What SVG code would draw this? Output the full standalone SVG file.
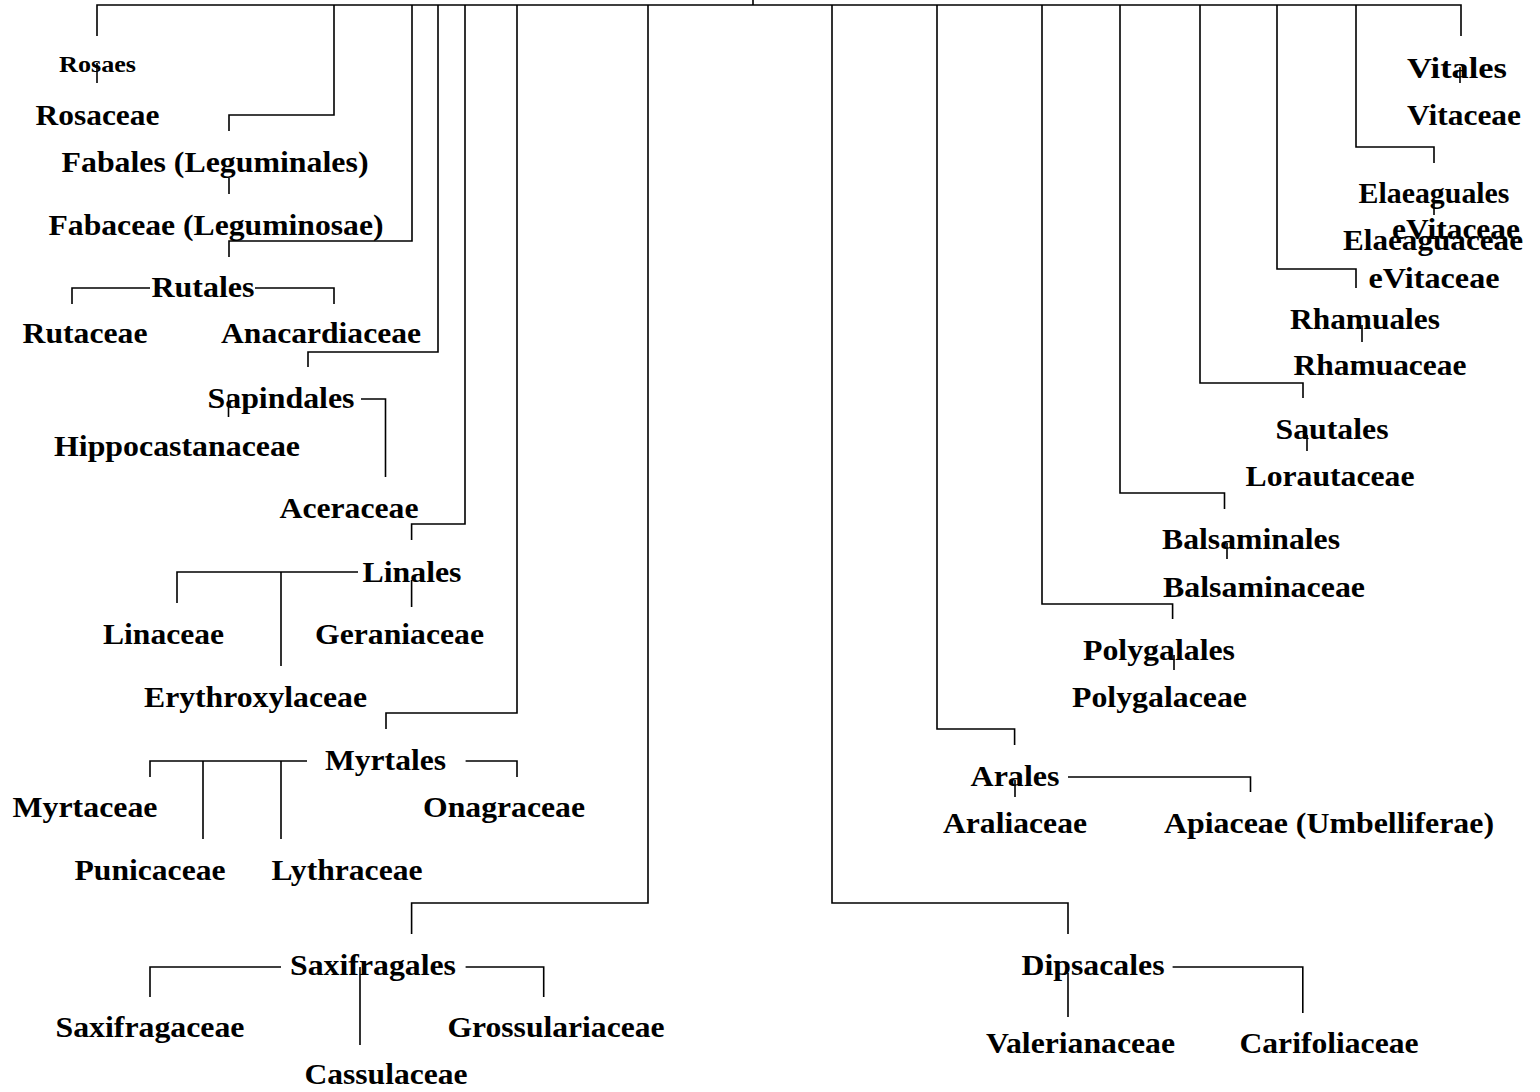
<svg xmlns="http://www.w3.org/2000/svg" width="1540" height="1092" viewBox="0 0 1540 1092">
<style>
text{font-family:"Liberation Serif","Times New Roman",serif;font-weight:bold;font-size:30px;fill:#000;text-anchor:middle}
.s{font-size:23px}
.c path{fill:none;stroke:#000;stroke-width:1.6}
</style>
<rect width="1540" height="1092" fill="#fff"/>
<g id="connectors" class="c">
<path d="M753,0V5M97,36V5H1461V36"/>
<path d="M97,63V83"/>
<path d="M334,5V115H229V131M229,178V194"/>
<path d="M412,5V241H229V257"/>
<path d="M150,288H72V304M255,288H334V304"/>
<path d="M438,5V352H308V367M228.5,395V417"/>
<path d="M361,399H385.5V477"/>
<path d="M465,5V524H411.6V540M411.6,580V607"/>
<path d="M358,572H177V603M281,572V666"/>
<path d="M517,5V713H386V729"/>
<path d="M307,761H150V777M203,761V839M281,761V839M465.6,761H517V777"/>
<path d="M648,5V903H411.6V934"/>
<path d="M281,967H150V997M465.6,967H543.7V997M360,967V1045"/>
<path d="M832,5V903H1068V934M1068,973V1017"/>
<path d="M1172.6,967H1302.8V1013"/>
<path d="M937,5V729H1014.6V745M1015,780V797"/>
<path d="M1068,777H1250.5V792"/>
<path d="M1042,5V604H1172.6V619M1174,655V670"/>
<path d="M1120,5V493H1224.5V509M1227,543V559"/>
<path d="M1200,5V383H1303V398M1307,435V451"/>
<path d="M1362,325V342"/>
<path d="M1277,5V269H1356V288"/>
<path d="M1356,5V147H1434V163M1434,200V215"/>
<path d="M1460,67V83"/>
</g>
<g id="n-rosaes"><text class="s" x="97.5" y="72" textLength="77" lengthAdjust="spacingAndGlyphs">Rosaes</text></g>
<g id="n-rosaceae"><text x="97.5" y="125" textLength="124" lengthAdjust="spacingAndGlyphs">Rosaceae</text></g>
<g id="n-fabales"><text x="215" y="172" textLength="307" lengthAdjust="spacingAndGlyphs">Fabales (Leguminales)</text></g>
<g id="n-fabaceae"><text x="216" y="235" textLength="335" lengthAdjust="spacingAndGlyphs">Fabaceae (Leguminosae)</text></g>
<g id="n-rutales"><text x="203" y="297" textLength="103" lengthAdjust="spacingAndGlyphs">Rutales</text></g>
<g id="n-rutaceae"><text x="85" y="343" textLength="125" lengthAdjust="spacingAndGlyphs">Rutaceae</text></g>
<g id="n-anacardiaceae"><text x="321" y="343" textLength="200" lengthAdjust="spacingAndGlyphs">Anacardiaceae</text></g>
<g id="n-sapindales"><text x="281" y="408" textLength="147" lengthAdjust="spacingAndGlyphs">Sapindales</text></g>
<g id="n-hippocastanaceae"><text x="177" y="456" textLength="246" lengthAdjust="spacingAndGlyphs">Hippocastanaceae</text></g>
<g id="n-aceraceae"><text x="349" y="518" textLength="139" lengthAdjust="spacingAndGlyphs">Aceraceae</text></g>
<g id="n-linales"><text x="412" y="582" textLength="99" lengthAdjust="spacingAndGlyphs">Linales</text></g>
<g id="n-linaceae"><text x="163.5" y="644" textLength="121" lengthAdjust="spacingAndGlyphs">Linaceae</text></g>
<g id="n-geraniaceae"><text x="399.5" y="644" textLength="169" lengthAdjust="spacingAndGlyphs">Geraniaceae</text></g>
<g id="n-erythroxylaceae"><text x="255.5" y="707" textLength="223" lengthAdjust="spacingAndGlyphs">Erythroxylaceae</text></g>
<g id="n-myrtales"><text x="385.5" y="770" textLength="121" lengthAdjust="spacingAndGlyphs">Myrtales</text></g>
<g id="n-myrtaceae"><text x="85" y="817" textLength="145" lengthAdjust="spacingAndGlyphs">Myrtaceae</text></g>
<g id="n-onagraceae"><text x="504" y="817" textLength="162" lengthAdjust="spacingAndGlyphs">Onagraceae</text></g>
<g id="n-punicaceae"><text x="150" y="880" textLength="151" lengthAdjust="spacingAndGlyphs">Punicaceae</text></g>
<g id="n-lythraceae"><text x="347" y="880" textLength="151" lengthAdjust="spacingAndGlyphs">Lythraceae</text></g>
<g id="n-saxifragales"><text x="373" y="975" textLength="166" lengthAdjust="spacingAndGlyphs">Saxifragales</text></g>
<g id="n-saxifragaceae"><text x="150" y="1037" textLength="189" lengthAdjust="spacingAndGlyphs">Saxifragaceae</text></g>
<g id="n-grossulariaceae"><text x="556" y="1037" textLength="217" lengthAdjust="spacingAndGlyphs">Grossulariaceae</text></g>
<g id="n-cassulaceae"><text x="386" y="1084" textLength="163" lengthAdjust="spacingAndGlyphs">Cassulaceae</text></g>
<g id="n-dipsacales"><text x="1093" y="975" textLength="143" lengthAdjust="spacingAndGlyphs">Dipsacales</text></g>
<g id="n-valerianaceae"><text x="1080.5" y="1053" textLength="189" lengthAdjust="spacingAndGlyphs">Valerianaceae</text></g>
<g id="n-carifoliaceae"><text x="1329" y="1053" textLength="179" lengthAdjust="spacingAndGlyphs">Carifoliaceae</text></g>
<g id="n-arales"><text x="1015" y="786" textLength="89" lengthAdjust="spacingAndGlyphs">Arales</text></g>
<g id="n-araliaceae"><text x="1015" y="833" textLength="144" lengthAdjust="spacingAndGlyphs">Araliaceae</text></g>
<g id="n-apiaceae"><text x="1329" y="833" textLength="330" lengthAdjust="spacingAndGlyphs">Apiaceae (Umbelliferae)</text></g>
<g id="n-polygalales"><text x="1159" y="660" textLength="152" lengthAdjust="spacingAndGlyphs">Polygalales</text></g>
<g id="n-polygalaceae"><text x="1159.5" y="707" textLength="175" lengthAdjust="spacingAndGlyphs">Polygalaceae</text></g>
<g id="n-balsaminales"><text x="1251" y="549" textLength="178" lengthAdjust="spacingAndGlyphs">Balsaminales</text></g>
<g id="n-balsaminaceae"><text x="1264" y="597" textLength="202" lengthAdjust="spacingAndGlyphs">Balsaminaceae</text></g>
<g id="n-sautales"><text x="1332" y="439" textLength="113" lengthAdjust="spacingAndGlyphs">Sautales</text></g>
<g id="n-lorautaceae"><text x="1330" y="486" textLength="169" lengthAdjust="spacingAndGlyphs">Lorautaceae</text></g>
<g id="n-rhamuales"><text x="1365" y="329" textLength="150" lengthAdjust="spacingAndGlyphs">Rhamuales</text></g>
<g id="n-rhamuaceae"><text x="1380" y="375" textLength="173" lengthAdjust="spacingAndGlyphs">Rhamuaceae</text></g>
<g id="n-evitaceae-2"><text x="1434" y="288" textLength="131" lengthAdjust="spacingAndGlyphs">eVitaceae</text></g>
<g id="n-elaeaguales"><text x="1434" y="203" textLength="151" lengthAdjust="spacingAndGlyphs">Elaeaguales</text></g>
<g id="n-evitaceae-1"><text x="1456" y="239" textLength="128" lengthAdjust="spacingAndGlyphs">eVitaceae</text></g>
<g id="n-elaeaguaceae"><text x="1433" y="250" textLength="180" lengthAdjust="spacingAndGlyphs">Elaeaguaceae</text></g>
<g id="n-vitales"><text x="1457" y="78" textLength="100" lengthAdjust="spacingAndGlyphs">Vitales</text></g>
<g id="n-vitaceae"><text x="1464" y="125" textLength="114" lengthAdjust="spacingAndGlyphs">Vitaceae</text></g>
</svg>
